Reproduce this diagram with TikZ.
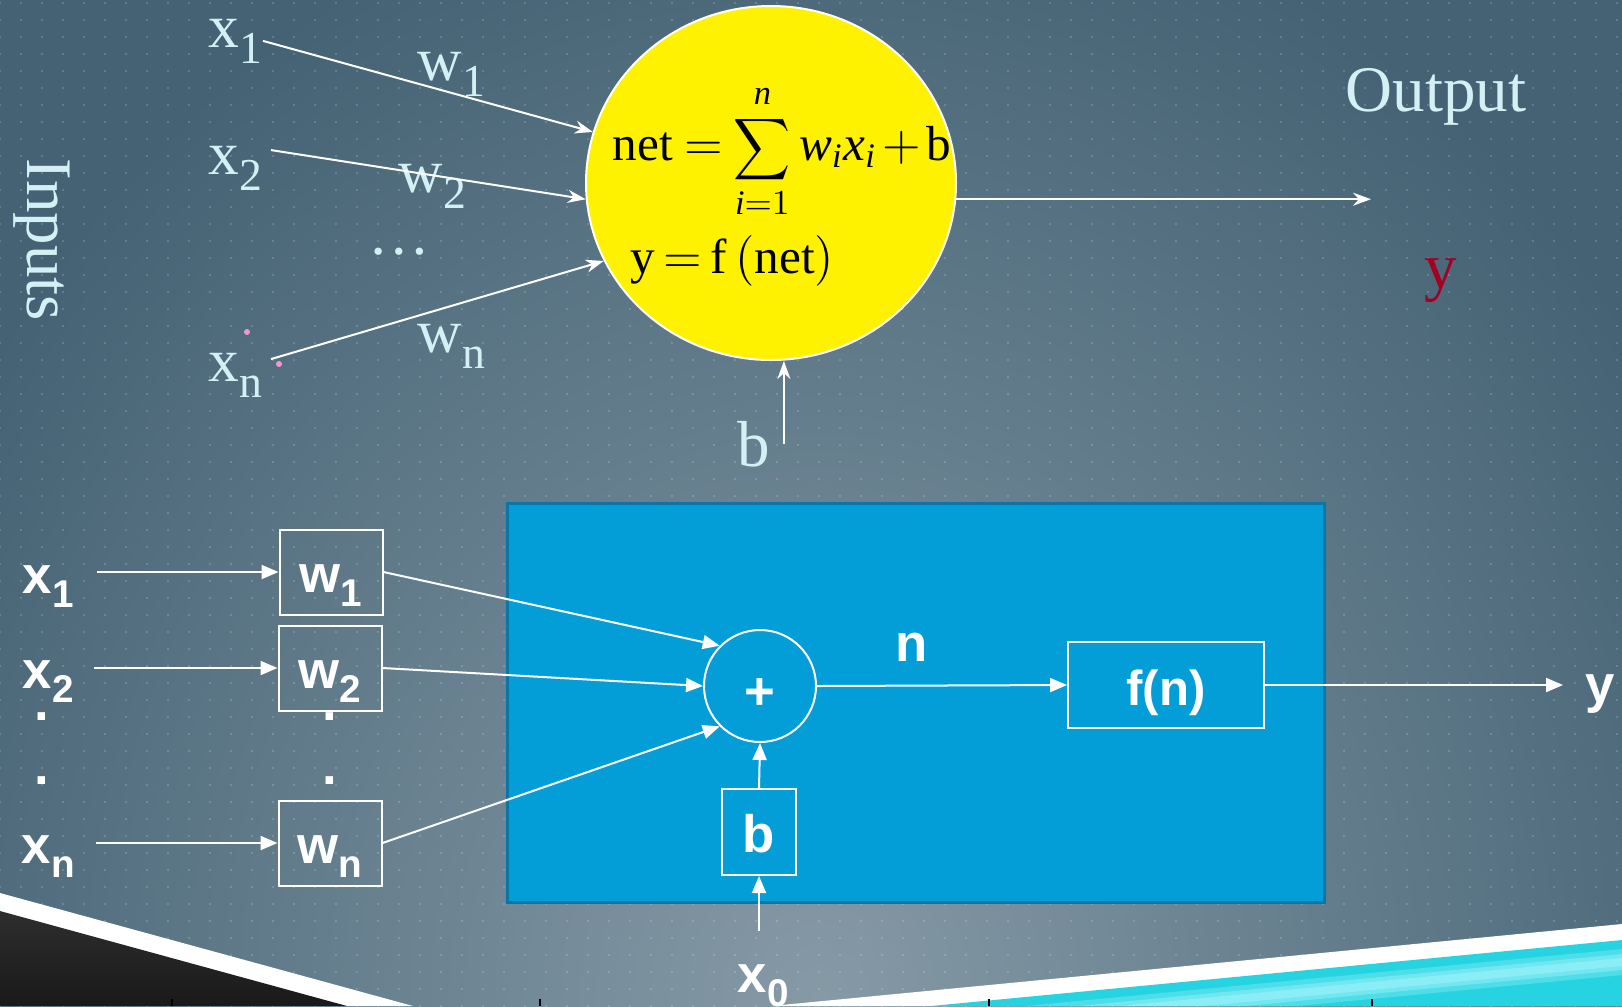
\documentclass[tikz,border=0pt]{standalone}
\usepackage{amsmath}
\usepackage{graphicx}
\usepackage{fontspec}
\setmainfont{Liberation Serif}
\newfontfamily\arialfont{Liberation Sans}
\usepackage{xcolor}
\usepackage{tikz}
\usetikzlibrary{calc,positioning,shapes.geometric,arrows.meta,patterns}

\definecolor{bgdark}{RGB}{68,98,116}
\definecolor{bglight}{RGB}{134,154,166}
\definecolor{labelcyan}{RGB}{212,240,244}
\definecolor{dotpink}{RGB}{242,150,210}
\definecolor{outred}{RGB}{165,0,33}
\definecolor{panelblue}{RGB}{3,158,216}
\definecolor{paneledge}{RGB}{10,118,168}
\definecolor{wedgecyan}{RGB}{38,212,225}
\definecolor{wedgelight}{RGB}{170,246,252}

\newcommand{\topsub}[1]{\raisebox{-1.6mm}{\fontsize{13}{13}\selectfont #1}}
\newcommand{\botsub}[1]{\raisebox{-1.4mm}{\fontsize{11}{11}\selectfont #1}}

\pgfdeclarepatternformonly{slidedots}{\pgfqpoint{-0.5pt}{-0.5pt}}{\pgfqpoint{0.5pt}{0.5pt}}{\pgfqpoint{5.975pt}{4.837pt}}{%
  \pgfpathrectangle{\pgfqpoint{-0.2pt}{-0.42pt}}{\pgfqpoint{0.4pt}{0.84pt}}\pgfusepath{fill}}

\begin{document}
\begin{tikzpicture}[
    x=0.1mm, y=-0.1mm,
    toplabel/.style={text=labelcyan, font=\fontsize{17.5}{20}\selectfont, inner sep=0pt},
    biglabel/.style={text=labelcyan, font=\fontsize{18.5}{22}\selectfont, inner sep=0pt},
    botlabel/.style={text=white, font=\arialfont\bfseries\fontsize{15}{18}\selectfont, inner sep=0pt},
    wbox/.style={botlabel, draw=white, line width=0.2mm, minimum width=10.3mm,
      minimum height=8.5mm, text height=5.4mm, text depth=1.4mm},
    tarrow/.style={white, line width=0.2mm, -{Stealth[length=1.8mm,width=1.3mm]}},
    barrow/.style={white, line width=0.2mm, -{Triangle[length=1.7mm,width=1.4mm]}}
  ]
    \useasboundingbox (0,0) rectangle (1622,1006);
    \fill[bgdark] (0,0) rectangle (1622,1006);
    \begin{scope}
      \clip (0,0) rectangle (1622,1006);
      \shade[inner color=bglight, outer color=bgdark] (820,1000) ellipse [x radius=1000, y radius=1150];
    \end{scope}
    \fill[pattern=slidedots, pattern color=white, fill opacity=0.16] (0,0) rectangle (1622,1006);

    \fill[white] (0,893) -- (413,1006) -- (0,1006) -- cycle;
    \shade[top color=black!82, bottom color=black!90] (0,911) -- (347,1006) -- (0,1006) -- cycle;
    \fill[white] (771,1006) -- (1622,924) -- (1622,1006) -- cycle;
    \fill[wedgecyan] (931,1006) -- (1622,940) -- (1622,1006) -- cycle;
    \begin{scope}
      \clip (931,1006) -- (1622,940) -- (1622,1006) -- cycle;
      \foreach \da/\db/\op in {9/35/0.3, 14/30/0.4, 18/26/0.45}
        \fill[wedgelight, opacity=\op] (931,1006+\da) -- (1622,940+\da) -- (1622,940+\db) -- (931,1006+\db) -- cycle;
    \end{scope}
    \foreach \tx in {172,540,989,1372}
      \draw[black, line width=0.15mm] (\tx,999) -- (\tx,1006);

    \node[biglabel, rotate=-90] (inputs) at (42,240) {Inputs};
    \node[toplabel, anchor=base west] (tx1) at (208,47) {x\topsub{1}};
    \node[toplabel, anchor=base west] (tx2) at (208,174) {x\topsub{2}};
    \node[toplabel, anchor=base west] (txn) at (208,381) {x\topsub{n}};
    \node[toplabel, anchor=base west] (tw1) at (417,80) {w\topsub{1}};
    \node[toplabel, anchor=base west] (tw2) at (398,192) {w\topsub{2}};
    \node[toplabel, anchor=base west] (twn) at (417,352) {w\topsub{n}};
    \node[toplabel] (tdots) at (399,252) {\dots};
    \fill[dotpink] (247,332) circle (0.3mm);
    \fill[dotpink] (279,364) circle (0.3mm);

    \node[
      ellipse,
      fill=yellow,
      draw=white,
      line width=0.2mm,
      minimum width=37mm,
      minimum height=35.4mm,
      inner sep=0pt
    ] (neuron) at (771,183) {};
    \node[font=\fontsize{14}{16}\selectfont, inner sep=0pt, anchor=base west] (neteq) at (612,160)
      {$\thickmuskip=4mu \medmuskip=2mu \displaystyle \textrm{net} =
       \mathop{\scalebox{0.78}[0.85]{$\displaystyle\sum$}}\limits_{\textit{i}=1}^{\textit{n}}
       \textit{w}_{\textit{i}}\textit{x}_{\textit{i}} + \textrm{b}$};
    \node[font=\fontsize{14}{16}\selectfont, inner sep=0pt, anchor=base west] (outeq) at (630,273)
      {$\thickmuskip=3mu \textrm{y} = \textrm{f}\,(\textrm{net})$};

    \draw[tarrow] (tx1.east) -- (neuron.164);
    \draw[tarrow] ($(tx2.north east)+(8,5)$) -- (neuron.185);
    \draw[tarrow] ($(txn.north east)+(8,7)$) -- (neuron.205);

    \node[biglabel, anchor=base west] (outlab) at (1345,111) {Output};
    \node[biglabel, text=outred, anchor=base west] (ytop) at (1424,288) {y};
    \coordinate (outtip) at (1371,200);
    \draw[tarrow] (neuron.-5) -- (neuron.-5 -| outtip);
    \node[biglabel, anchor=base west] (btop) at (737,466) {b};
    \coordinate (bfoot) at ($(btop.east)+(13,0)$);
    \draw[tarrow] (bfoot) -- (bfoot |- neuron.south);

    \fill[panelblue, draw=paneledge, line width=0.3mm] (507,503) rectangle (1324,902);

    \node[botlabel, anchor=base west] (xin1) at (22,593) {x\botsub{1}};
    \node[botlabel, anchor=base west] (xin2) at (22,688) {x\botsub{2}};
    \node[botlabel, anchor=base west] (xinn) at (21,863) {x\botsub{n}};
    \node[wbox] (w1) at (331,572) {w\botsub{1}};
    \node[wbox] (w2) at (330,668) {w\botsub{2}};
    \node[wbox] (wn) at (330,843) {w\botsub{n}};
    \foreach \dx/\dy/\dn in {42/720/a, 42/784/b, 330/720/c, 330/784/d}
      \node[botlabel, anchor=base] (dot\dn) at (\dx,\dy) {.};

    \node[botlabel, circle, draw=white, line width=0.2mm, minimum size=11.2mm,
      text height=4.6mm, text depth=0pt] (sum) at (760,686) {+};
    \node[wbox, minimum width=7.4mm, minimum height=8.6mm] (bbox) at (759,832) {b};
    \node[wbox, minimum width=19.6mm, minimum height=8.6mm,
      font=\arialfont\bfseries\fontsize{14}{17}\selectfont] (fn) at (1166,685) {f(n)};
    \node[botlabel, anchor=base west] (yout) at (1585,702) {y};
    \node[botlabel, anchor=base west] (xzero) at (737,992) {x\botsub{0}};

    \draw[barrow] ($(xin1.east |- w1.west)+(23,0)$) -- (w1.west);
    \draw[barrow] ($(xin2.east |- w2.west)+(20,0)$) -- (w2.west);
    \draw[barrow] ($(xinn.east |- wn.west)+(21,0)$) -- (wn.west);
    \draw[barrow] (w1.east) -- (sum.135);
    \draw[barrow] (w2.east) -- (sum.west);
    \draw[barrow] (wn.east) -- (sum.225);
    \draw[barrow] (sum.east) -- node[botlabel, pos=0.38, above=2.3mm] (nlab) {n} (fn.west);
    \draw[barrow] (fn.east) -- ($(yout.west |- fn.east)+(-22,0)$);
    \draw[barrow] (bbox.north) -- (sum.south);
    \draw[barrow] ($(xzero.north -| bbox.south)+(0,-32)$) -- (bbox.south);
\end{tikzpicture}
\end{document}
